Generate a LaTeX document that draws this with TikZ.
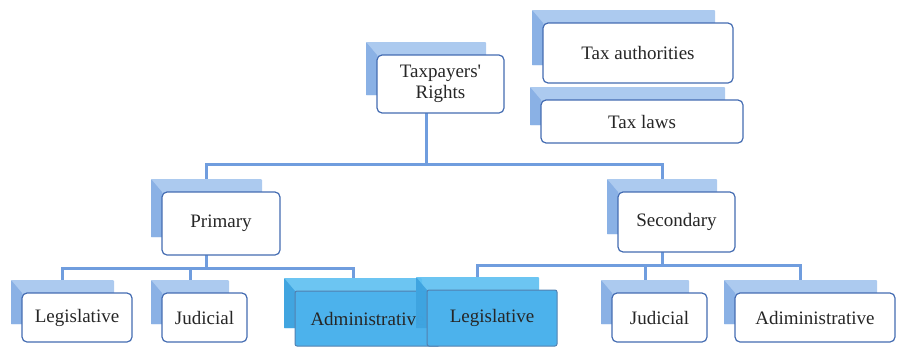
\documentclass[tikz,border=0pt]{standalone}
\usepackage{fontspec}
\setmainfont{Liberation Serif}
\usepackage{tikz}
\usetikzlibrary{positioning, backgrounds}

\definecolor{linkblue}{RGB}{112,157,222}
\definecolor{backpale}{RGB}{172,202,239}
\definecolor{bevelpale}{RGB}{138,177,229}
\definecolor{rimblue}{RGB}{68,108,178}
\definecolor{backsky}{RGB}{92,191,241}
\definecolor{bevelsky}{RGB}{58,160,222}
\definecolor{facesky}{RGB}{76,178,236}
\definecolor{rimsky}{RGB}{82,128,176}

\tikzset{
  backplain/.style={fill=backpale, draw=none, rounded corners=1pt, inner sep=0pt, outer sep=0pt},
  bevelplain/.style={fill=bevelpale},
  frontplain/.style={fill=white, draw=rimblue, line width=1.2pt, rounded corners=5pt,
    inner sep=0pt, outer sep=0pt, align=center, text=black!85, font=\fontsize{19}{21}\selectfont},
  backhi/.style={fill=backsky, fill opacity=0.9, draw=none, rounded corners=1pt, inner sep=0pt, outer sep=0pt},
  bevelhi/.style={fill=bevelsky, fill opacity=0.85},
  fronthi/.style={fill=facesky, draw=rimsky, line width=1pt, rounded corners=2pt,
    inner sep=0pt, outer sep=0pt, align=center, text=black!85, font=\fontsize{19}{21}\selectfont},
  link/.style={draw=linkblue, line width=3pt}
}

% #1 look (plain/hi), #2 name, #3 #4 north west corner of the face, #5 width, #6 height, #7 text
\newcommand{\orgbox}[7][plain]{%
  \node[back#1, minimum width=#5-7, minimum height=#6-5, anchor=north west] (#2b) at (#3-11,#4-13) {};
  \fill[bevel#1] (#2b.north west) -- ++(11,13) -- ([xshift=11pt]#2b.south west) -- (#2b.south west) -- cycle;
  \node[front#1, minimum width=#5, minimum height=#6, anchor=north west] (#2) at ([shift={(11,13)}]#2b.north west) {#7};
}

\begin{document}
\begin{tikzpicture}[x=1pt, y=-1pt]
  \useasboundingbox (0,0) rectangle (897,346);

  % Top of the tree
  \orgbox{tr}{377}{55}{127}{58}{Taxpayers\textquotesingle\\Rights}
  \orgbox{ta}{543}{23}{190}{60}{Tax authorities}
  \orgbox{tl}{541}{100}{202}{43}{Tax laws}

  % Two kinds of rights
  \orgbox{pri}{162}{192}{118}{63}{Primary}
  \orgbox{sec}{618}{192}{117}{60}{Secondary}

  % Primary ones
  \orgbox{lleg}{22}{293}{110}{49}{Legislative}
  \orgbox{ljud}{162}{293}{85}{49}{Judicial}
  \orgbox[hi]{ladm}{295}{291}{145}{55}{Administrative}

  % Secondary ones
  \orgbox[hi]{rleg}{427}{290}{130}{56}{Legislative}
  \orgbox{rjud}{612}{293}{95}{49}{Judicial}
  \orgbox{radm}{735}{293}{160}{49}{Adiministrative}

  % Links
  \begin{scope}[on background layer]
    \draw[link] (trb.south) -- ++(0,69) -| (prib.north);
    \draw[link] (trb.south) -- ++(0,69) -| (secb.north);
    \foreach \n in {lleg, ljud, ladm}
      \draw[link] (prib.south) -- ++(0,31) -| (\n b.north);
    \foreach \n in {rleg, rjud, radm}
      \draw[link] (secb.south) -- ++(0,31) -| (\n b.north);
  \end{scope}

\end{tikzpicture}
\end{document}
